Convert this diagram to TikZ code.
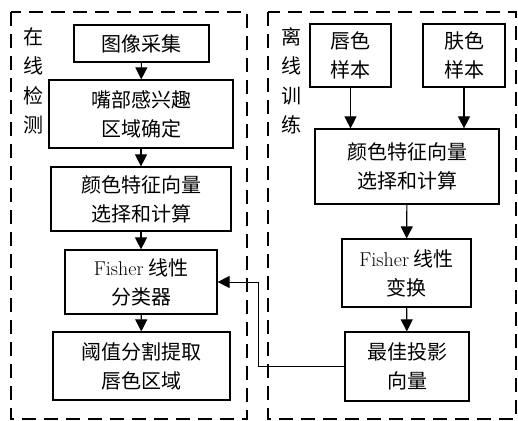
\documentclass[tikz,border=0pt]{standalone}
\usepackage{fontspec}
\newfontfamily\cjk{Noto Sans CJK SC}
\usetikzlibrary{arrows.meta}
\begin{document}
\begin{tikzpicture}[x=1pt,y=-1pt,
  box/.style={draw,line width=1.2pt,inner sep=0pt,align=center,font=\fontsize{20}{29}\selectfont\cjk},
  frame/.style={draw,line width=1.8pt,dash pattern=on 14pt off 8pt},
  vlabel/.style={inner sep=0pt,align=center,font=\fontsize{20}{29.5}\selectfont\cjk},
  arr/.style={line width=1.1pt,-{Triangle[length=12pt,width=12pt]}}]
\useasboundingbox (0,0) rectangle (518,420);
\draw[frame] (11,12) rectangle (247,419);
\draw[frame] (268,12) rectangle (516,419);
\node[vlabel] (lblL) at (33,81) {在\\线\\检\\测};
\node[vlabel] (lblR) at (291,81) {离\\线\\训\\练};
% left column
\node[box,minimum width=135pt,minimum height=37pt] (img) at (141.5,43.5) {图像采集};
\node[box,minimum width=184pt,minimum height=68pt] (roi) at (141,114) {嘴部感兴趣\\区域确定};
\node[box,minimum width=180pt,minimum height=64pt] (colL) at (141,199) {颜色特征向量\\选择和计算};
\node[box,minimum width=152pt,minimum height=64pt] (fishL) at (141,282) {{\rmfamily Fisher} 线性\\分类器};
\node[box,minimum width=177pt,minimum height=68pt] (thr) at (141.5,366) {阈值分割提取\\唇色区域};
% right column
\node[box,minimum width=81pt,minimum height=63pt] (lip) at (350.5,55.5) {唇色\\样本};
\node[box,minimum width=82pt,minimum height=63pt] (skin) at (464,55.5) {肤色\\样本};
\node[box,minimum width=184pt,minimum height=75pt] (colR) at (407,166.5) {颜色特征向量\\选择和计算};
\node[box,minimum width=129pt,minimum height=68pt] (fishR) at (406.5,273) {{\rmfamily Fisher} 线性\\变换};
\node[box,minimum width=124pt,minimum height=69pt] (best) at (407,366.5) {最佳投影\\向量};
\coordinate (jog) at (258,0);
% arrows
\draw[arr] (img) -- (roi);
\draw[arr] (roi) -- (colL);
\draw[arr] (colL) -- (fishL);
\draw[arr] (fishL) -- (thr);
\draw[arr] (lip.south) -- (lip.south |- colR.north);
\draw[arr] (skin.south) -- (skin.south |- colR.north);
\draw[arr] (colR) -- (fishR);
\draw[arr] (fishR) -- (best);
\draw[arr,line width=1pt] (best.west) -- (jog |- best.west) -- (jog |- fishL.east) -- (fishL.east);
\end{tikzpicture}
\end{document}
